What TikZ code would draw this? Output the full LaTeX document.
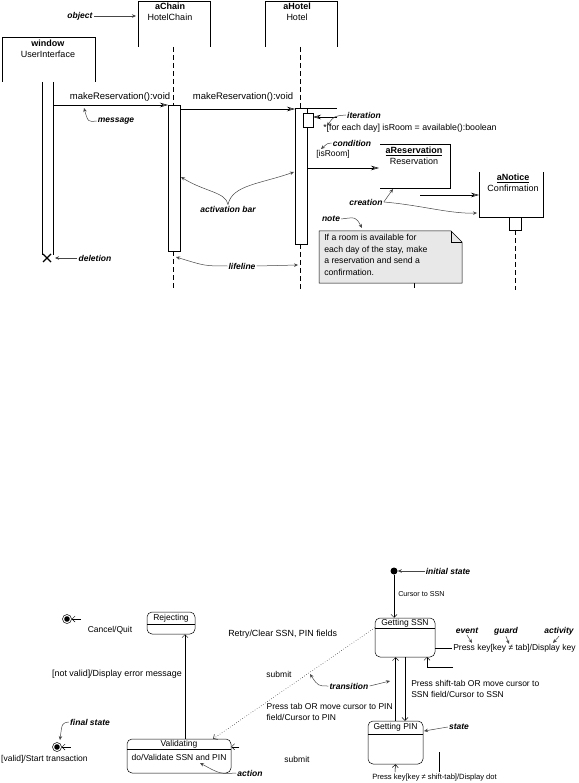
\documentclass[tikz,border=0pt]{standalone}
\usepackage{fontspec}
\setmainfont{Liberation Sans}
\usetikzlibrary{arrows.meta,calc}

\begin{document}
\begin{tikzpicture}[x=1pt, y=-1pt, line width=0.5pt,
  every node/.style = {inner sep=1pt, font=\fontsize{8.5}{10.5}\selectfont},
  obj/.style = {align=center, font=\fontsize{9}{11}\selectfont},
  call/.style = {font=\fontsize{9.5}{11}\selectfont},
  ann/.style = {font=\fontsize{8.5}{10}\selectfont\bfseries\itshape},
  annarrow/.style = {draw=gray!55!black, -{Stealth[length=4pt, width=3.5pt]}},
  msg/.style = {-{Stealth[length=8pt, width=4.5pt, fill=gray!70]}},
  trans/.style = {-{Straight Barb[length=3pt, width=6pt]}},
  lifeline/.style = {dash pattern=on 5pt off 3pt},
  bar/.style = {draw, fill=white},
  state/.style = {draw, rounded corners=5pt},
  final/.style = {circle, draw, inner sep=0pt, minimum size=9pt}]
\useasboundingbox (0,0) rectangle (578,783);

\draw (2,82) |- (95,37) -- (95,82);
\node[obj] (window) at (48,48.5) {\textbf{window}\\UserInterface};
\draw (138,47) |- (210,1) -- (210,47);
\node[obj] (aChain) at (170,12) {\textbf{aChain}\\HotelChain};
\draw (265,47) |- (337,1) -- (337,47);
\node[obj] (aHotel) at (297,12) {\textbf{aHotel}\\Hotel};

\draw (42,82) -- (42,255) (53,82) -- (53,255);
\draw[line width=1.2pt] (43,254) -- (51,262) (43,262) -- (51,254);
\draw[lifeline] (173,47) -- (173,105);
\draw[bar] (168,105) rectangle (180,251);
\draw[lifeline] (173,251) -- (173,290);
\draw[lifeline] (300,47) -- (300,108);
\draw[bar] (295,108) rectangle (307,244);
\draw[lifeline] (300,244) -- (300,290);
\draw[bar] (303,113) rectangle (313,127);

\draw[msg] (53,105) -- (168,105);
\node[call] (msg1) at (120,97) {makeReservation():void};
\draw[msg] (180,109) -- (295,109);
\node[call] (msg2) at (243,97) {makeReservation():void};
\draw (307,108) -- (337,108);
\draw[msg] (337,117) -- (313,117);
\node[anchor=west, font=\fontsize{8.8}{10}\selectfont] (iterTxt) at (322,128) {*[for each day] isRoom = available():boolean};
\node[anchor=west] (isRoom) at (315,154) {[isRoom]};
\draw[msg] (307,168) -- (379,168);

\draw (380,144) -| (450,188) -- (380,188);
\node[obj] (aRes) at (414,156) {\underline{\textbf{aReservation}}\\Reservation};
\draw[lifeline] (414,283) -- (414,290);
\draw[msg] (420,195) -- (479,195);
\draw (479,172) |- (543,217) -- (543,172);
\node[obj] (aNotice) at (513,183) {\underline{\textbf{aNotice}}\\Confirmation};
\draw[bar] (509,217) rectangle (521,230);
\draw[lifeline] (515,230) -- (515,290);

\filldraw[fill=gray!18] (319,231) -- (451,231) -- (462,242) -- (462,283) -- (319,283) -- cycle;
\draw (451,231) |- (462,242);
\node[anchor=north west, align=left, font=\fontsize{8.7}{11.7}\selectfont] (noteTxt) at (323,233)
  {If a room is available for\\each day of the stay, make\\a reservation and send a\\confirmation.};

\node[ann] (objectL) at (80,16) {object};
\draw[annarrow] (objectL.east) -- (136,16);
\node[ann] (messageL) at (116,121) {message};
\draw[annarrow] (messageL.west) .. controls (88,122) .. (84,108);
\node[ann] (deletionL) at (95,258) {deletion};
\draw[annarrow] (deletionL.west) -- (55,258);
\node[ann] (actL) at (228,209) {activation bar};
\draw[annarrow] (actL.north) .. controls (226,192) and (205,192) .. (181,177);
\draw[annarrow] (actL.north) .. controls (232,185) and (260,184) .. (294,172);
\node[ann] (lifeL) at (242,266) {lifeline};
\draw[annarrow] (lifeL.west) .. controls (205,266) .. (176,257);
\draw[annarrow] (lifeL.east) -- (298,265);
\node[ann] (iterL) at (364,115) {iteration};
\draw[annarrow] (iterL.west) .. controls (334,116) .. (327,126);
\node[ann] (condL) at (352,143) {condition};
\draw[annarrow] (condL.west) .. controls (328,143) .. (321,149);
\node[ann] (creL) at (366,202) {creation};
\draw[annarrow] (creL.east) -- (393,189);
\draw[annarrow] (creL.east) .. controls (420,205) and (450,214) .. (477,213);
\node[ann] (noteL) at (331,219) {note};
\draw[annarrow] (noteL.east) .. controls (356,217) .. (362,228);

\node[circle, fill, inner sep=0pt, minimum size=7pt] (init) at (394,571) {};
\node[state, minimum width=60pt, minimum height=39pt] (gssn) at (405,637.5) {};
\draw (375,628) -- (435,628);
\node (gssnN) at (405,623) {Getting SSN};
\node[state, minimum width=55pt, minimum height=43pt] (gpin) at (395.5,742.5) {};
\draw (368,734) -- (423,734);
\node (gpinN) at (395.5,727.5) {Getting PIN};
\node[state, minimum width=104pt, minimum height=34pt] (valid) at (179,756) {};
\draw (127,749) -- (231,749);
\node (validN) at (179,744) {Validating};
\node (validDo) at (179,757) {do/Validate SSN and PIN};
\node[state, minimum width=48pt, minimum height=22pt] (rej) at (171,623) {};
\draw (147,624) -- (195,624);
\node (rejN) at (171,618) {Rejecting};
\node[final] (fin1) at (67,619) {};
\fill (fin1) circle (2.8);
\node[final] (fin2) at (57,747) {};
\fill (fin2) circle (2.8);

\draw[trans] (init) -- (init |- gssn.north);
\node[anchor=west, font=\fontsize{7.2}{9}\selectfont] (cursorSSN) at (397,594) {Cursor to SSN};
\draw[trans] (gpin.north) -- (gpin.north |- gssn.south);
\draw[trans] (gssn.south) -- (gssn.south |- gpin.north);
\node[anchor=west, align=left] (shiftTab) at (410,689) {Press shift-tab OR move cursor to\\SSN field/Cursor to SSN};
\node[anchor=east, align=left] (tab) at (394,712) {Press tab OR move cursor to PIN\\field/Cursor to PIN};
\draw (gssn.east |- 0,648) -- (452,648);
\node[anchor=west] (ssnLoop) at (452,648) {Press key[key ≠ tab]/Display key};
\draw[trans] (453,667) -| (427,657);
\draw (439,752) -- (439,772);
\draw[trans] (395,772) -- (gpin.south);
\node[anchor=west, font=\fontsize{7.6}{9}\selectfont] (pinLoop) at (371,778) {Press key[key ≠ shift-tab]/Display dot};
\draw[trans, dotted] ([yshift=-10pt]gssn.north west) -- ([xshift=-18pt]valid.north east);
\node (submit1) at (279,674) {submit};
\node (submit2) at (297,759) {submit};
\draw[trans] ([xshift=8pt,yshift=-8pt]valid.north east) -- ([yshift=-8pt]valid.north east);
\draw[trans] ([xshift=6pt]valid.north) -- ([xshift=14pt]rej.south);
\node[anchor=east, font=\fontsize{8.9}{10.5}\selectfont] (notValid) at (183,674) {[not valid]/Display error message};
\node[anchor=west, font=\fontsize{8.9}{10.5}\selectfont] (retry) at (227,634) {Retry/Clear SSN, PIN fields};
\node (cancel) at (110,630) {Cancel/Quit};
\draw[trans] ([xshift=9pt]fin1.east) -- (fin1.east);
\node[anchor=west] (startTr) at (0,759) {[valid]/Start transaction};
\draw[trans] ([xshift=9pt]fin2.east) -- (fin2.east);

\node[ann] (initL) at (448,571) {initial state};
\draw[annarrow] (initL.west) -- (init.east);
\node[ann] (eventL) at (467,631) {event};
\draw[annarrow] (eventL.south) -- (472,643);
\node[ann] (guardL) at (506,631) {guard};
\draw[annarrow] (guardL.south) -- (509,644);
\node[ann] (activityL) at (559,631) {activity};
\draw[annarrow] (activityL.south) -- (553,643);
\node[ann] (transL) at (349,686) {transition};
\draw[annarrow] (transL.west) .. controls (318,686) .. (310,674);
\draw[annarrow] (transL.east) -- (390,681);
\node[ann] (stateL) at (459,727) {state};
\draw[annarrow] (stateL.west) -- (424,731);
\node[ann] (finalL) at (90,722) {final state};
\draw[annarrow] (finalL.west) .. controls (62,723) .. (60,740);
\node[ann] (actionL) at (250,773) {action};
\draw[annarrow] (actionL.west) .. controls (220,774) .. (200,763);
\end{tikzpicture}
\end{document}
